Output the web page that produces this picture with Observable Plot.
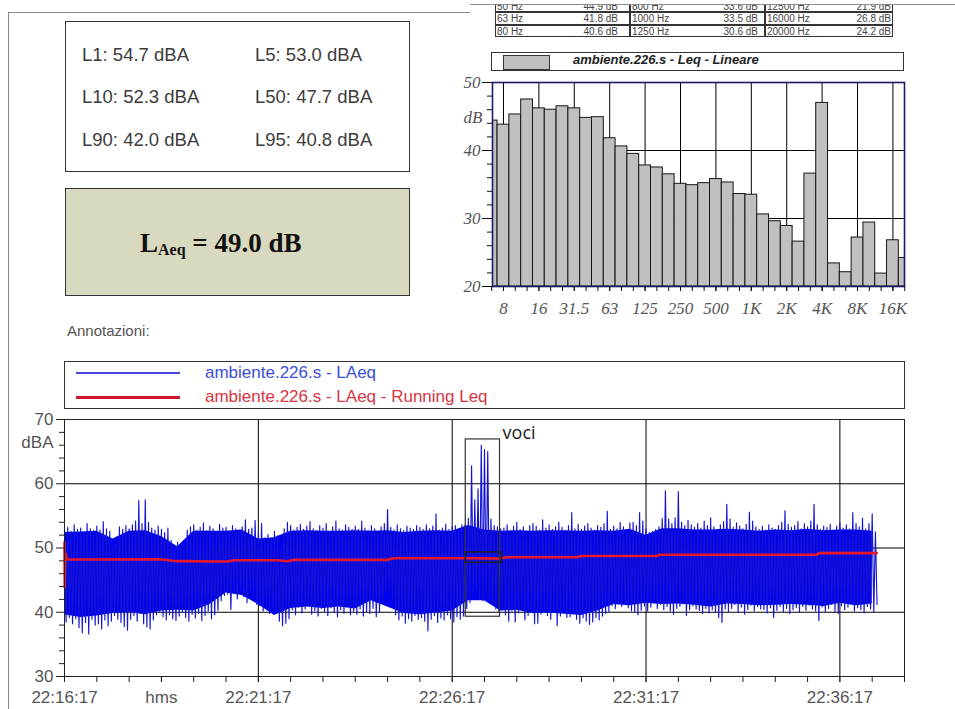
<!DOCTYPE html>
<html><head><meta charset="utf-8">
<script src="https://cdn.jsdelivr.net/npm/d3@7"></script>
<script src="https://cdn.jsdelivr.net/npm/@observablehq/plot@0.6"></script>
<style>
body{margin:0;background:#fff;}
#page{position:relative;width:955px;height:709px;overflow:hidden;font-family:Arial,"Liberation Sans",sans-serif;background:#fff;}
</style></head><body><div id="page"></div>
<script>
// ---------------- DATA ----------------
const percentileLabels = ["L1","L5","L10","L50","L90","L95"];
const percentileValues = [54.7,53.0,52.3,47.7,42.0,40.8];
const laeqTotal = 49.0;

const bandLabels = ["6.3","8","10","12.5","16","20","25","31.5","40","50","63","80","100","125","160","200","250","315","400","500","630","800","1000","1250","1600","2000","2500","3150","4000","5000","6300","8000","10000","12500","16000","20000"];
const bandLeq = [44.4,43.8,45.3,47.5,46.2,46.0,46.5,46.2,44.8,44.9,41.8,40.6,39.5,37.8,37.5,36.5,35.1,34.9,35.2,35.8,35.3,33.6,33.5,30.6,29.6,28.9,26.6,36.6,47.0,23.4,22.1,27.2,29.4,21.9,26.8,24.2];
const octaveBands = ["8","16","31.5","63","125","250","500","1000","2000","4000","8000","16000"];
const octaveTickLabels = ["8","16","31.5","63","125","250","500","1K","2K","4K","8K","16K"];
const tableBands = [["50","800","12500"],["63","1000","16000"],["80","1250","20000"]];
const spectrumName = "ambiente.226.s - Leq - Lineare";

const seriesNames = ["ambiente.226.s - LAeq","ambiente.226.s - LAeq - Running Leq"];
const binSeconds = 5;
const laeqHi = [
52.8,53.2,52.6,53.6,52.9,53.1,52.4,53.8,53.0,52.7,
53.4,52.8,54.1,53.0,52.6,50.2,50.6,53.3,52.9,53.5,
53.0,53.6,54.2,57.4,53.8,57.5,54.0,53.1,52.8,53.4,
52.9,52.4,53.1,51.2,50.4,50.9,50.1,50.6,52.8,53.3,
53.6,52.8,53.2,53.9,52.7,53.4,53.0,52.5,53.7,53.1,
53.2,52.6,53.5,53.0,52.8,53.3,54.4,52.9,53.1,54.3,
52.4,53.8,51.6,52.1,51.4,52.6,51.9,49.9,53.0,54.0,
53.5,52.8,53.2,53.7,52.9,53.4,54.1,53.0,52.7,53.5,
53.1,53.8,52.6,53.3,54.2,53.0,52.8,53.6,53.2,52.9,
53.4,52.9,54.2,53.1,52.7,53.5,53.0,52.6,53.3,53.8,
56.0,53.2,52.8,53.6,53.0,52.7,53.4,53.1,52.9,53.5,
53.2,52.9,53.6,53.0,53.4,55.3,52.8,53.1,53.7,52.9,
53.3,53.5,53.0,53.6,53.6,54.6,62.8,57.5,59.2,66.0,
65.3,65.0,54.5,53.5,53.3,53.0,53.1,53.6,52.7,53.4,
54.0,52.9,53.3,52.6,53.5,53.8,53.4,52.8,54.4,53.1,
53.6,52.9,53.3,54.0,53.2,52.7,53.5,55.5,53.0,53.7,
52.9,53.4,53.8,53.1,52.8,53.5,53.2,53.8,55.7,52.9,
53.4,53.0,54.0,53.3,52.7,53.9,54.0,53.5,55.5,54.2,
53.0,52.4,52.6,52.9,53.3,54.6,58.9,54.5,53.8,54.7,
58.8,54.0,53.5,54.3,53.6,53.2,53.8,53.1,54.2,53.5,
54.7,53.3,52.9,53.6,54.1,56.8,54.5,53.2,53.9,53.4,
53.0,53.7,55.6,54.2,53.3,52.9,53.4,52.8,53.6,53.1,
52.9,53.5,54.0,55.8,53.7,53.2,53.5,54.1,53.0,53.8,
53.3,54.2,56.8,53.6,52.9,53.4,53.2,53.7,52.8,53.4,
53.9,53.1,53.6,53.0,55.5,53.8,53.3,54.6,53.0,53.8,
55.3,52.5];
const laeqLo = [
38.5,39.2,38.2,39.0,37.6,36.8,38.4,36.6,38.9,38.0,
38.2,37.4,38.8,37.9,38.6,39.5,38.9,38.4,37.8,37.2,
38.9,39.5,38.6,39.8,38.2,37.7,37.4,38.8,39.6,40.1,
39.3,38.8,39.6,39.0,38.7,39.4,40.0,39.2,38.6,39.7,
39.1,39.8,38.7,39.5,40.2,39.0,39.6,40.3,41.8,42.6,
42.8,40.4,43.2,42.1,43.6,42.4,41.5,43.0,42.2,41.2,
41.0,40.2,40.9,39.8,40.5,39.9,38.6,37.9,38.3,39.0,
40.4,39.6,40.8,39.9,40.5,41.0,39.7,40.2,39.4,40.6,
40.1,39.5,40.7,40.0,39.3,40.4,39.8,40.9,39.6,40.2,
39.7,40.5,39.4,40.1,39.8,40.6,39.3,40.0,41.5,43.2,
43.0,42.1,39.6,38.8,39.4,38.3,39.0,38.6,39.5,38.9,
39.2,38.6,37.1,38.9,39.5,38.4,39.1,38.8,39.6,39.0,
38.5,39.3,38.9,39.4,40.6,41.5,42.8,43.5,42.0,41.8,
42.6,41.7,41.2,40.5,40.0,40.8,39.6,38.6,40.2,38.5,
39.9,40.4,38.8,39.5,40.1,38.2,38.3,39.7,40.3,39.5,
38.9,40.1,37.9,39.4,40.6,39.2,39.3,40.0,38.9,38.3,
39.1,38.6,38.1,38.5,39.2,38.8,39.4,39.8,40.1,41.0,
40.6,41.3,40.9,41.5,40.7,40.2,40.1,39.6,40.3,41.0,
40.2,40.8,41.4,40.6,41.2,40.4,40.9,40.2,39.7,40.6,
40.9,41.3,39.5,40.4,41.0,40.5,40.3,39.8,40.6,39.9,
40.4,40.0,39.2,38.4,40.5,40.1,40.6,41.2,40.0,40.8,
39.7,40.4,41.1,40.2,40.9,40.5,40.4,39.9,40.7,39.2,
40.3,40.9,40.1,40.6,39.8,40.4,40.7,40.0,40.9,40.3,
41.1,40.5,40.2,38.7,40.8,40.1,40.6,41.2,40.1,39.8,
41.0,40.4,40.8,41.3,40.2,40.7,40.4,39.9,40.9,40.5,
40.0,41.2];
// solid core of the LAeq band (read every 25 s)
const coreStepSeconds = 25;
const coreTop = [
52.4,52.5,52.6,51.4,52.6,52.7,51.8,50.2,52.6,52.6,
52.6,52.8,51.4,51.6,52.6,52.7,52.6,52.6,52.7,52.6,
52.7,52.4,52.6,52.7,52.6,53.5,52.8,52.6,52.7,52.6,
52.7,52.7,52.6,52.7,52.6,52.9,52.0,53.0,53.0,52.8,
52.8,52.9,52.8,52.6,52.8,52.7,52.9,52.7,52.8,52.8,
52.6];
const coreBottom = [
39.6,39.2,39.4,39.8,40.0,39.6,40.2,40.3,40.2,41.2,
43.0,42.6,41.2,39.5,40.6,40.8,40.6,40.8,40.5,41.8,
40.8,39.8,39.6,39.9,40.2,41.8,41.8,40.2,40.3,39.8,
39.9,39.7,39.5,40.2,41.2,41.0,41.4,41.2,41.3,41.1,
40.8,41.3,41.2,41.0,41.1,41.2,41.1,40.9,41.4,41.0,
41.3];
const runSeconds = [0,0.4,1.2,4,60,148,174,252,262,329,345,355,499,509,628,673,684,792,800,916,921,1164,1168,1257];
const runLeq = [50.9,43.9,49.2,48.2,48.2,48.25,47.95,47.9,48.1,48.1,47.95,48.15,48.15,48.4,48.4,48.35,48.55,48.55,48.75,48.75,48.95,48.95,49.2,49.2];

const timeTickSeconds = [0,300,600,900,1200];
const timeTickLabels = ["22:16:17","22:21:17","22:26:17","22:31:17","22:36:17"];
const timeUnitLabel = "hms";
const timeUnitSecond = 150;
const vociLabel = "voci";
const vociBox = {t1:621, t2:674, lo:39.3, hi:66.9};
const vociMarker = {t1:621, t2:677, lo:47.7, hi:49.3};
const vociText = {t:678, v:67.0};

// ---------------- LAYOUT ----------------
const page = document.getElementById("page");
function add(css, html) {
  const e = document.createElement("div");
  e.style.cssText = "position:absolute;white-space:nowrap;" + css;
  if (html != null) e.innerHTML = html;
  page.appendChild(e);
  return e;
}
add("left:8px;top:12px;width:1px;height:697px;background:#8c8c8c");
add("left:8px;top:12px;width:462px;height:1px;background:#8c8c8c");

// table (clipped at top, as in the source)
const tbl = add("left:495px;top:4px;width:400px;height:34px;overflow:hidden");
const colX = [0,135,270,398];
const valRight = [123,263,396];
const rowTop = [-4.1,8.3,20.7];
tableBands.forEach((row, r) => {
  row.forEach((b, c) => {
    const cell = document.createElement("div");
    cell.style.cssText = `position:absolute;left:${colX[c]}px;top:${rowTop[r]}px;width:${colX[c+1]-colX[c]}px;height:12.4px;border:1px solid #333;box-sizing:border-box;`;
    tbl.appendChild(cell);
    const v = bandLeq[bandLabels.indexOf(b)];
    const f = document.createElement("div");
    f.style.cssText = `position:absolute;left:${colX[c]+2}px;top:${rowTop[r]+1}px;font-size:10px;line-height:11px;color:#444;white-space:nowrap;`;
    f.textContent = b + " Hz";
    tbl.appendChild(f);
    const g = document.createElement("div");
    g.style.cssText = `position:absolute;right:${400-valRight[c]}px;top:${rowTop[r]+1}px;font-size:10px;line-height:11px;color:#444;text-align:right;white-space:nowrap;`;
    g.textContent = v.toFixed(1) + " dB";
    tbl.appendChild(g);
  });
});
add("left:470px;top:4px;width:485px;height:1px;background:#8c8c8c");

// statistics box
add("left:65px;top:21px;width:345px;height:151px;border:1.5px solid #333;box-sizing:border-box;background:#fff");
const statCols = [82, 255];
const statBase = [61, 103.3, 146.7];
percentileLabels.forEach((l, i) => {
  const r = Math.floor(i / 2), c = i % 2;
  add(`left:${statCols[c]}px;top:${statBase[r]-15.4}px;font-size:18.5px;line-height:18.5px;color:#3c3c3c`,
      `${l}: ${percentileValues[i].toFixed(1)} dBA`);
});
// LAeq box
add("left:65px;top:188px;width:345px;height:108px;border:1.5px solid #333;box-sizing:border-box;background:#d9d9bf");
add("left:140px;top:229.5px;font-family:'Liberation Serif','Times New Roman',serif;font-weight:bold;font-size:27px;line-height:27px;color:#111",
    `L<span style="font-size:16px;position:relative;top:3px">Aeq</span> = ${laeqTotal.toFixed(1)} dB`);

// spectrum legend
add("left:491px;top:52px;width:413px;height:19px;border:1px solid #333;box-sizing:border-box;background:#fff");
add("left:503px;top:54.5px;width:47px;height:15px;border:1px solid #333;box-sizing:border-box;background:#c0c0c0");
add("left:573px;top:53.3px;font-size:13px;line-height:13px;font-style:italic;font-weight:bold;color:#222", spectrumName);

// annotations label
add("left:67px;top:323px;font-size:15px;line-height:15px;color:#555", "Annotazioni:");

// time legend
add("left:64px;top:361px;width:841px;height:48px;border:1px solid #333;box-sizing:border-box;background:#fff");
add("left:76px;top:372px;width:104px;height:1.6px;background:#4646e6");
add("left:76px;top:396px;width:104px;height:3px;background:#d0142a");
add("left:205px;top:363.6px;font-size:17px;line-height:17px;color:#3b4fd8", seriesNames[0]);
add("left:205px;top:387.6px;font-size:17px;line-height:17px;color:#d8353f", seriesNames[1]);

// ---------------- SPECTRUM (Plot) ----------------
const bars = bandLeq.map((v, i) => ({i, v}));
const bandIdx = bandLabels.map((_, i) => i);
const octIdx = octaveBands.map(b => bandLabels.indexOf(b));
const hist = Plot.plot({
  width: 480, height: 285, marginLeft: 52, marginRight: 16, marginTop: 42, marginBottom: 39,
  style: {fontFamily: "'Liberation Serif','Times New Roman',serif", fontStyle: "italic", fontSize: "17px", background: "transparent", overflow: "visible"},
  x: {domain: [0.07, 34.98], label: null},
  y: {domain: [20, 50], label: null},
  marks: [
    Plot.gridX(octIdx, {stroke: "#000", strokeOpacity: 1}),
    Plot.gridY([30, 40], {stroke: "#000", strokeOpacity: 1}),
    Plot.rect(bars, {x1: d => d.i - 0.5, x2: d => d.i + 0.5, y1: 20, y2: "v", fill: "#c0c0c0", stroke: "#151515", strokeWidth: 1, clip: true}),
    Plot.frame({stroke: "#1a1a6a", strokeWidth: 1.6}),
    Plot.axisY({ticks: [20, 30, 40, 50], tickSize: 10, tickPadding: 2, fill: "#555", stroke: "#111", fontSize: 17, label: null}),
    Plot.axisY({ticks: d3.range(22, 50, 2).filter(d => d % 10), tickSize: 5, fill: "none", stroke: "#111", label: null}),
    Plot.axisX({ticks: bandIdx, tickSize: 5, fill: "none", stroke: "#111", label: null}),
    Plot.axisX({ticks: octIdx, tickFormat: d => octaveTickLabels[octIdx.indexOf(d)], tickSize: 5, tickPadding: 10, fill: "#555", stroke: "#111", fontSize: 17, label: null}),
    Plot.text(["dB"], {frameAnchor: "left", y: 44.9, dx: -10, textAnchor: "end", fill: "#555", fontSize: 17})
  ]
});
hist.style.position = "absolute";
hist.style.left = "440px";
hist.style.top = "40px";
page.appendChild(hist);

// ---------------- TIME HISTORY (Plot) ----------------
const n = Math.min(laeqHi.length, laeqLo.length);
const zig = [];
for (let i = 0; i < n; i++) {
  zig.push({t: i * binSeconds, v: laeqHi[i]});
  zig.push({t: i * binSeconds + binSeconds / 2, v: laeqLo[i]});
}
const core = coreTop.map((v, i) => ({t: i * coreStepSeconds, hi: v, lo: coreBottom[i]}));
const run = runSeconds.map((t, i) => ({t, v: runLeq[i]}));
const labelTicks = [...timeTickSeconds, timeUnitSecond];
const tl = Plot.plot({
  width: 955, height: 304, marginLeft: 64, marginRight: 51, marginTop: 14, marginBottom: 33,
  style: {fontFamily: "Arial,'Liberation Sans',sans-serif", fontSize: "17px", background: "transparent", overflow: "visible"},
  x: {domain: [0, 1300], label: null},
  y: {domain: [30, 70], label: null},
  marks: [
    Plot.gridX(timeTickSeconds.slice(1), {stroke: "#000", strokeOpacity: 1}),
    Plot.gridY([40, 50, 60], {stroke: "#000", strokeOpacity: 1}),
    Plot.areaY(core, {x: "t", y1: "lo", y2: "hi", fill: "#0000ee"}),
    Plot.line(zig, {x: "t", y: "v", stroke: "#1414d4", strokeWidth: 1.15}),
    Plot.line(run, {x: "t", y: "v", stroke: "#e5182c", strokeWidth: 2.6}),
    Plot.rect([vociBox], {x1: "t1", x2: "t2", y1: "lo", y2: "hi", fill: "none", stroke: "#333", strokeWidth: 1.2}),
    Plot.rect([vociMarker], {x1: "t1", x2: "t2", y1: "lo", y2: "hi", fill: "none", stroke: "#222", strokeWidth: 1.5}),
    Plot.text([vociText], {x: "t", y: "v", text: () => vociLabel, textAnchor: "start", lineAnchor: "bottom", fontFamily: "'Open Sans',sans-serif", fontSize: 18, fill: "#222"}),
    Plot.frame({stroke: "#222"}),
    Plot.axisY({ticks: [30, 40, 50, 60, 70], tickSize: 8, tickPadding: 3, fill: "#555", stroke: "#222", fontSize: 17, label: null}),
    Plot.axisY({ticks: d3.range(32, 70, 2).filter(d => d % 10), tickSize: 5, fill: "none", stroke: "#222", label: null}),
    Plot.text(["dBA"], {frameAnchor: "left", y: 66.4, dx: -11, textAnchor: "end", fill: "#555", fontSize: 17}),
    Plot.axisX({ticks: d3.range(0, 1301, 50), tickSize: 6, fill: "none", stroke: "#222", label: null}),
    Plot.axisX({ticks: labelTicks, tickFormat: d => d === timeUnitSecond ? timeUnitLabel : timeTickLabels[timeTickSeconds.indexOf(d)], tickSize: 6, tickPadding: 8, fill: "#555", stroke: "#222", fontSize: 17, label: null})
  ]
});
tl.style.position = "absolute";
tl.style.left = "0px";
tl.style.top = "405px";
page.appendChild(tl);
</script>
</body></html>
